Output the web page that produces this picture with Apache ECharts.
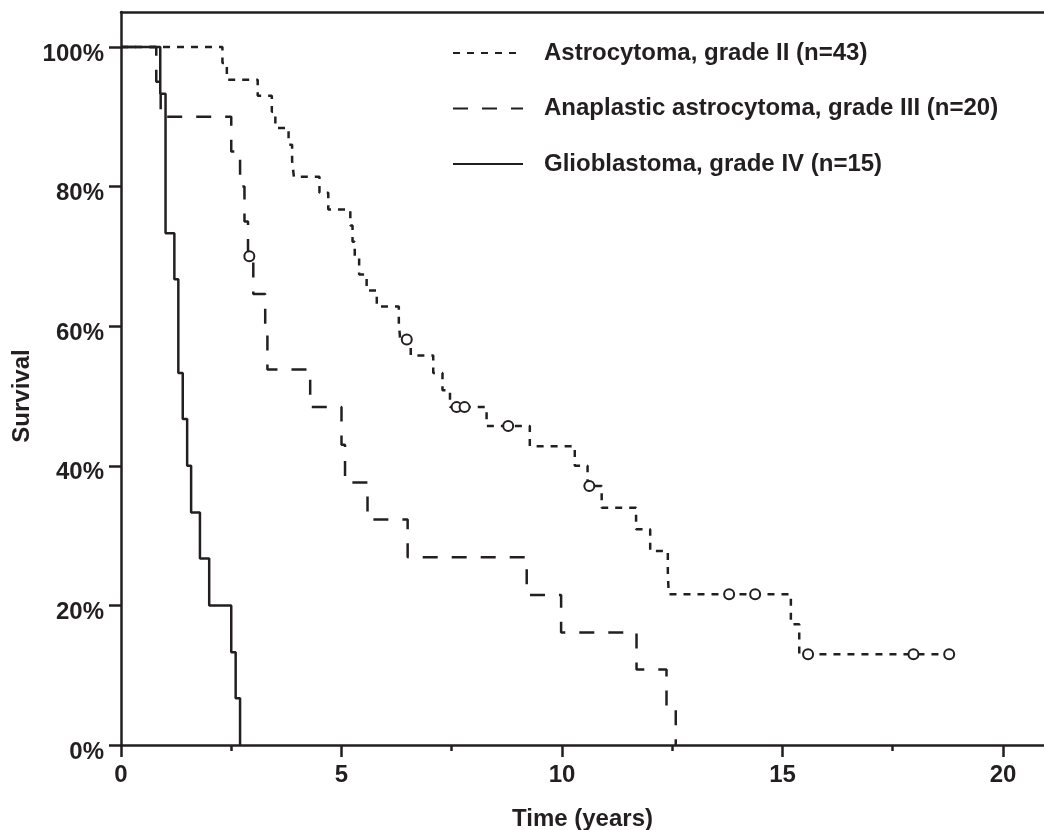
<!DOCTYPE html>
<html lang="en">
<head>
<meta charset="UTF-8">
<title>Survival</title>
<script src="https://cdn.jsdelivr.net/npm/echarts@6/dist/echarts.min.js"></script>
<style>
  html, body { margin: 0; padding: 0; background: #fff; }
  #chart { width: 1044px; height: 830px; }
</style>
</head>
<body>
<div id="chart"></div>
<script>
// tick labels
var xTicks = [0, 5, 10, 15, 20];
var xMinorTicks = [2.5, 7.5, 12.5, 17.5];
var yTicks = [0, 20, 40, 60, 80, 100];

// Astrocytoma, grade II (n=43) - time in years, survival in %
var astroTime = [0, 2.3, 2.4, 3.1, 3.42, 3.5, 3.8, 3.88, 3.92, 4.5, 4.7, 5.2, 5.25, 5.3, 5.4, 5.57, 5.8, 6.3, 6.33, 6.57, 7.08, 7.29, 7.46, 8.29, 9.27, 10.29, 10.58, 10.9, 11.68, 12.0, 12.4, 12.42, 15.19, 15.38, 18.78];
var astroSurv = [100, 97.7, 95.3, 93.0, 90.7, 88.4, 86.0, 83.7, 81.4, 79.1, 76.7, 74.4, 72.1, 69.8, 67.4, 65.1, 62.8, 60.5, 58.1, 55.8, 53.3, 50.8, 48.4, 45.7, 42.8, 40.0, 37.1, 34.0, 30.9, 27.8, 24.7, 21.6, 17.3, 13.0, 13.0];
var astroCensTime = [6.48, 7.61, 7.79, 8.78, 10.62, 13.79, 14.38, 15.58, 17.97, 18.78];
var astroCensSurv = [58.1, 48.4, 48.4, 45.7, 37.1, 21.6, 21.6, 13.0, 13.0, 13.0];

// Anaplastic astrocytoma, grade III (n=20)
var anaTime = [0, 0.8, 0.9, 2.5, 2.7, 2.8, 2.88, 3.0, 3.27, 3.32, 4.29, 5.0, 5.08, 5.59, 6.5, 9.2, 9.98, 11.69, 12.37, 12.58];
var anaSurv = [100, 95, 90, 85, 80, 75, 70, 64.6, 59.2, 53.8, 48.4, 43.0, 37.6, 32.3, 26.9, 21.5, 16.1, 10.8, 5.4, 0];
var anaCensTime = [2.91];
var anaCensSurv = [70];

// Glioblastoma, grade IV (n=15)
var glioTime = [0, 0.89, 1.01, 1.21, 1.30, 1.40, 1.50, 1.59, 1.79, 2.0, 2.5, 2.6, 2.7];
var glioSurv = [100, 93.3, 73.3, 66.7, 53.3, 46.7, 40.0, 33.3, 26.7, 20.0, 13.3, 6.7, 0];

var names = ['Astrocytoma, grade II (n=43)', 'Anaplastic astrocytoma, grade III (n=20)', 'Glioblastoma, grade IV (n=15)'];

var ink = '#231f20';
var font = 'Liberation Sans, Arial, Helvetica, sans-serif';

function pairs(xs, ys) {
  return xs.map(function (x, i) { return [x, ys[i]]; });
}

function kmLine(name, xs, ys, dash) {
  return {
    name: name,
    type: 'line',
    step: 'end',
    symbol: 'none',
    data: pairs(xs, ys),
    lineStyle: { color: ink, width: 2.5, type: dash },
    itemStyle: { color: ink },
    animation: false,
    z: 3
  };
}

function censors(xs, ys) {
  return {
    type: 'scatter',
    symbol: 'emptyCircle',
    symbolSize: 10,
    data: pairs(xs, ys),
    itemStyle: { color: ink, borderColor: ink, borderWidth: 2.5, opacity: 1 },
    animation: false,
    z: 4
  };
}

var myChart = echarts.init(document.getElementById('chart'));

// x range runs off the right edge of the picture, as in the original
var xMax = 20.93;

var option = {
  backgroundColor: '#fff',
  grid: { left: 121, width: 923, top: 12, bottom: 85, outerBoundsMode: 'none', containLabel: false },
  legend: {
    data: names,
    orient: 'vertical',
    left: 447,
    top: 34,
    itemWidth: 70,
    itemHeight: 14,
    itemGap: 27.5,
    itemStyle: { opacity: 0 },
    textStyle: {
      fontFamily: font, fontWeight: 'bold', fontSize: 24, lineHeight: 28,
      color: ink, padding: [0, 0, 0, 16]
    }
  },
  xAxis: [{
    type: 'value',
    min: 0, max: xMax,
    splitLine: { show: false },
    axisLine: { lineStyle: { color: ink, width: 2.5 } },
    axisTick: { customValues: xTicks, length: 12, lineStyle: { color: ink, width: 2.5 } },
    axisLabel: {
      customValues: xTicks, margin: 18, color: ink,
      fontFamily: font, fontWeight: 'bold', fontSize: 24
    },
    name: 'Time (years)',
    nameLocation: 'middle',
    nameGap: 62,
    nameTextStyle: { fontFamily: font, fontWeight: 'bold', fontSize: 24, color: ink }
  }, {
    // minor ticks only
    type: 'value',
    min: 0, max: xMax,
    position: 'bottom',
    splitLine: { show: false },
    axisLine: { show: false },
    axisLabel: { show: false },
    axisTick: { customValues: xMinorTicks, length: 6, lineStyle: { color: ink, width: 2.5 } }
  }, {
    // top frame line
    type: 'value',
    min: 0, max: xMax,
    position: 'top',
    splitLine: { show: false },
    axisLine: { lineStyle: { color: ink, width: 2.5 } },
    axisLabel: { show: false },
    axisTick: { show: false }
  }],
  yAxis: {
    type: 'value',
    min: 0, max: 105,
    splitLine: { show: false },
    axisLine: { lineStyle: { color: ink, width: 2.5 } },
    axisTick: { customValues: yTicks, length: 12, lineStyle: { color: ink, width: 2.5 } },
    axisLabel: {
      customValues: yTicks, margin: 17,
      formatter: function (v) { return '{p|' + v + '%}'; },
      rich: {
        p: { padding: [14, 0, 0, 0], color: ink, fontFamily: font, fontWeight: 'bold', fontSize: 24 }
      }
    }
  },
  graphic: [{
    type: 'text',
    x: 22, y: 396,
    rotation: Math.PI / 2,
    style: {
      text: 'Survival', fill: ink, font: 'bold 24px ' + font,
      textAlign: 'center', textVerticalAlign: 'middle'
    }
  }],
  series: [
    kmLine(names[0], astroTime, astroSurv, [7, 7]),
    kmLine(names[1], anaTime, anaSurv, [15, 14]),
    kmLine(names[2], glioTime, glioSurv, 'solid'),
    censors(astroCensTime, astroCensSurv),
    censors(anaCensTime, anaCensSurv)
  ]
};

myChart.setOption(option);
</script>
</body>
</html>
